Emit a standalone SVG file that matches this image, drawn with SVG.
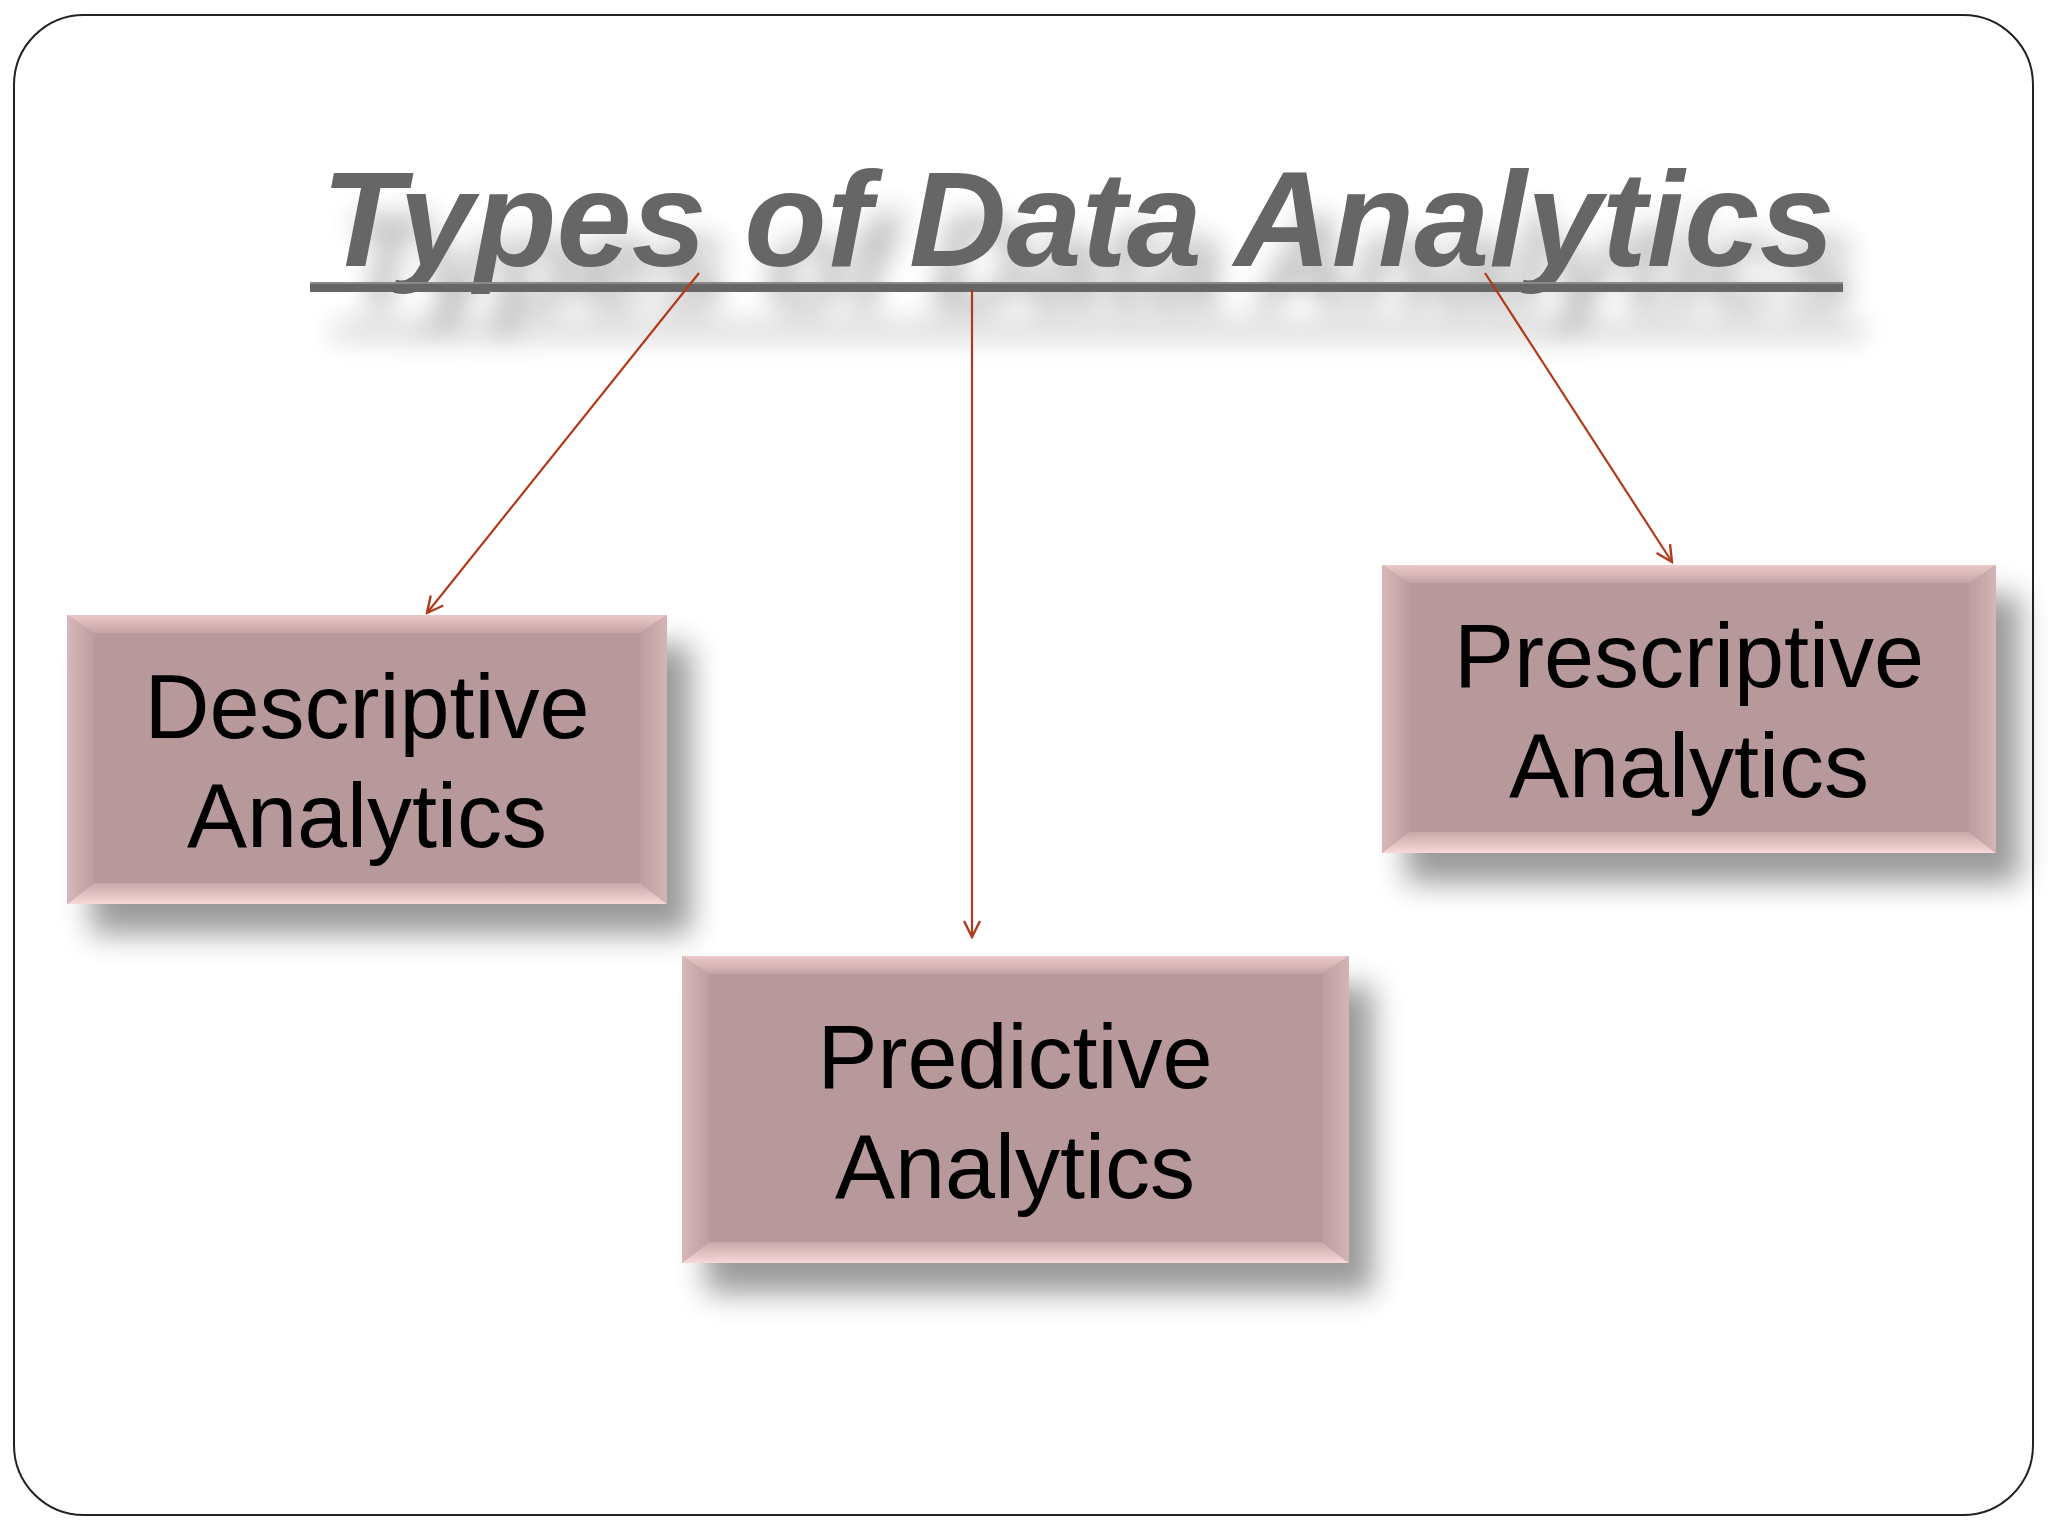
<svg xmlns="http://www.w3.org/2000/svg" width="2048" height="1536" viewBox="0 0 2048 1536">
<defs>
<style>
.title{font-family:"Liberation Sans",Arial,sans-serif;font-weight:bold;font-style:italic;font-size:135px;fill:#666666}
.lbl{font-family:"Liberation Sans",Arial,sans-serif;font-size:90px;fill:#000000;text-anchor:middle}
.conn{stroke:#b23a1c;stroke-width:2.2;fill:none}
.face{fill:#b8999b}
.btop{fill:url(#gTop)}
.bbot{fill:url(#gBot)}
.bleft{fill:url(#gLeft)}
.bright{fill:url(#gRight)}
</style>
<linearGradient id="gTop" x1="0" y1="0" x2="0" y2="1">
<stop offset="0" stop-color="#ecc9c9"/>
<stop offset="1" stop-color="#c6a3a5"/>
</linearGradient>
<linearGradient id="gBot" x1="0" y1="0" x2="0" y2="1">
<stop offset="0" stop-color="#c9a8a9"/>
<stop offset="1" stop-color="#f6d8d8"/>
</linearGradient>
<linearGradient id="gLeft" x1="0" y1="0" x2="1" y2="0">
<stop offset="0" stop-color="#d8b8b8"/>
<stop offset="1" stop-color="#bd9ea0"/>
</linearGradient>
<linearGradient id="gRight" x1="0" y1="0" x2="1" y2="0">
<stop offset="0" stop-color="#bd9ea0"/>
<stop offset="1" stop-color="#d4b4b4"/>
</linearGradient>
<filter id="boxShadow" x="-20%" y="-20%" width="150%" height="170%">
<feGaussianBlur in="SourceAlpha" stdDeviation="15"/>
<feOffset dx="24" dy="30"/>
<feComponentTransfer><feFuncA type="linear" slope="0.4"/></feComponentTransfer>
</filter>
<filter id="titleShadow" x="-10%" y="-40%" width="125%" height="220%">
<feGaussianBlur in="SourceAlpha" stdDeviation="14"/>
<feOffset dx="22" dy="44"/>
<feComponentTransfer><feFuncA type="linear" slope="0.3"/></feComponentTransfer>
</filter>
<marker id="arr" viewBox="0 0 20 20" refX="18" refY="10" markerWidth="20" markerHeight="20" markerUnits="userSpaceOnUse" orient="auto">
<path d="M2,2 L18,10 L2,18" fill="none" stroke="#b23a1c" stroke-width="2.4"/>
</marker>
</defs>

<rect x="14" y="15" width="2019" height="1500" rx="70" ry="70" fill="#ffffff" stroke="#222222" stroke-width="2"/>

<g id="title">
<g filter="url(#titleShadow)">
<text class="title" x="1078" y="266" text-anchor="middle">Types of Data Analytics</text>
<rect x="310" y="282" width="1533" height="10"/>
</g>
<text class="title" x="1078" y="266" text-anchor="middle">Types of Data Analytics</text>
<rect x="310" y="282" width="1533" height="10" fill="#666666"/>
<rect x="310" y="282" width="1533" height="2" fill="#8a8a8a"/>
</g>

<g id="descriptive">
<rect x="67" y="615" width="600" height="289" fill="#000" filter="url(#boxShadow)"/>
<rect class="face" x="67" y="615" width="600" height="289"/>
<polygon class="btop" points="67,615 667,615 640,633 94,633"/>
<polygon class="bbot" points="67,904 667,904 640,883 94,883"/>
<polygon class="bleft" points="67,615 94,633 94,883 67,904"/>
<polygon class="bright" points="667,615 640,633 640,883 667,904"/>
<text class="lbl" x="367" y="738">Descriptive</text>
<text class="lbl" x="367" y="847">Analytics</text>
</g>

<g id="predictive">
<rect x="682" y="956" width="667" height="307" fill="#000" filter="url(#boxShadow)"/>
<rect class="face" x="682" y="956" width="667" height="307"/>
<polygon class="btop" points="682,956 1349,956 1322,974 709,974"/>
<polygon class="bbot" points="682,1263 1349,1263 1322,1242 709,1242"/>
<polygon class="bleft" points="682,956 709,974 709,1242 682,1263"/>
<polygon class="bright" points="1349,956 1322,974 1322,1242 1349,1263"/>
<text class="lbl" x="1015" y="1088">Predictive</text>
<text class="lbl" x="1015" y="1198">Analytics</text>
</g>

<g id="prescriptive">
<rect x="1382" y="565" width="614" height="288" fill="#000" filter="url(#boxShadow)"/>
<rect class="face" x="1382" y="565" width="614" height="288"/>
<polygon class="btop" points="1382,565 1996,565 1969,583 1409,583"/>
<polygon class="bbot" points="1382,853 1996,853 1969,832 1409,832"/>
<polygon class="bleft" points="1382,565 1409,583 1409,832 1382,853"/>
<polygon class="bright" points="1996,565 1969,583 1969,832 1996,853"/>
<text class="lbl" x="1689" y="687">Prescriptive</text>
<text class="lbl" x="1689" y="797">Analytics</text>
</g>

<g id="connectors">
<line class="conn" x1="699" y1="273" x2="427" y2="613" marker-end="url(#arr)"/>
<line class="conn" x1="972" y1="290" x2="972" y2="937" marker-end="url(#arr)"/>
<line class="conn" x1="1485" y1="273" x2="1672" y2="562" marker-end="url(#arr)"/>
</g>
</svg>
